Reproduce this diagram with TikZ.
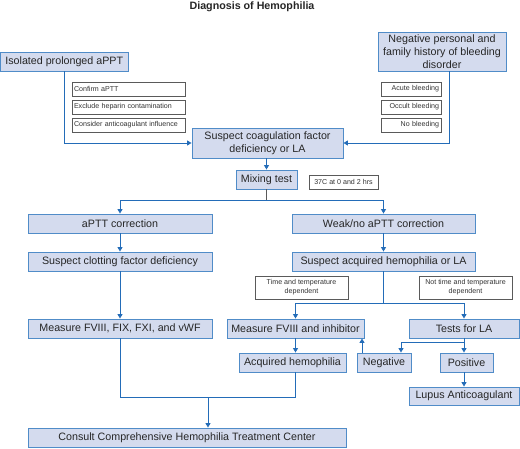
\documentclass[tikz,border=0pt]{standalone}
\usepackage{fontspec}
\setmainfont{Liberation Sans}
\usetikzlibrary{arrows.meta}
\definecolor{boxfill}{RGB}{212,219,238}
\definecolor{boxdraw}{RGB}{80,140,200}
\definecolor{linec}{RGB}{35,108,184}
\definecolor{smalldraw}{RGB}{90,90,90}
\tikzset{
  bigbox/.style={draw=boxdraw, fill=boxfill, line width=0.9pt, inner sep=0pt, align=center,
    font=\fontsize{10.7}{12.7}\selectfont, text=black!85},
  smallbox/.style={draw=smalldraw, fill=white, line width=0.8pt, inner xsep=2pt, inner ysep=0pt,
    font=\fontsize{7.1}{9}\selectfont, text=black!80},
  conn/.style={draw=linec, line width=0.9pt},
  arr/.style={conn, -{Triangle[width=5pt,length=4.5pt]}},
}
\begin{document}
\begin{tikzpicture}[x=1pt,y=-1pt]
\path[use as bounding box] (0,0) rectangle (520,448);
% title
\node[font=\fontsize{10.7}{12}\selectfont\bfseries, text=black!85] (title) at (252,7) {Diagnosis of Hemophilia};
% top boxes
\node[bigbox, minimum width=127.5pt, minimum height=19pt] (iso) at (64.25,61.5) {Isolated prolonged aPPT};
\node[bigbox, minimum width=128pt, minimum height=39pt] (neg) at (442,51.5) {Negative personal and\\family history of bleeding\\disorder};
% side notes
\node[smallbox, text width=109pt, minimum height=14pt, align=left] (c1) at (128.5,89) {Confirm aPTT};
\node[smallbox, text width=109pt, minimum height=14pt, align=left] (c2) at (128.5,107) {Exclude heparin contamination};
\node[smallbox, text width=109pt, minimum height=14pt, align=left] (c3) at (128.5,125) {\mbox{Consider anticoagulant influence}};
\node[smallbox, text width=56pt, minimum height=14pt, align=right] (b1) at (411,89) {Acute bleeding};
\node[smallbox, text width=56pt, minimum height=14pt, align=right] (b2) at (411,107) {\mbox{Occult bleeding}};
\node[smallbox, text width=56pt, minimum height=14pt, align=right] (b3) at (411,125) {No bleeding};
% suspect
\node[bigbox, minimum width=151pt, minimum height=30pt] (susp) at (267.5,143) {Suspect coagulation factor\\deficiency or LA};
\node[bigbox, minimum width=61pt, minimum height=19pt] (mix) at (266.5,179.5) {Mixing test};
\node[smallbox, inner xsep=0pt, minimum width=69pt, minimum height=14pt, align=center] (t37) at (343.5,182) {37C at 0 and 2 hrs};
% left column
\node[bigbox, minimum width=184pt, minimum height=19pt] (corr) at (120,223.5) {aPTT correction};
\node[bigbox, minimum width=184pt, minimum height=19pt] (sclot) at (120,261.5) {Suspect clotting factor deficiency};
\node[bigbox, minimum width=184pt, minimum height=19pt] (measall) at (120,328.5) {Measure FVIII, FIX, FXI, and vWF};
% right column
\node[bigbox, minimum width=183pt, minimum height=19pt] (weak) at (383.5,223.5) {Weak/no aPTT correction};
\node[bigbox, minimum width=183pt, minimum height=19pt] (sacq) at (383.5,261.5) {Suspect acquired hemophilia or LA};
\node[smallbox, inner xsep=0pt, minimum width=93pt, minimum height=23pt, align=center] (tdep) at (301.5,287.5) {Time and temperature\\dependent};
\node[smallbox, inner xsep=0pt, minimum width=93pt, minimum height=23pt, align=center] (ntdep) at (465.5,287.5) {Not time and temperature\\dependent};
\node[bigbox, minimum width=137pt, minimum height=19pt] (measinh) at (295.5,328.5) {Measure FVIII and inhibitor};
\node[bigbox, minimum width=110pt, minimum height=19pt] (tests) at (464,328.5) {Tests for LA};
\node[bigbox, minimum width=107pt, minimum height=19pt] (acq) at (292.5,362.5) {Acquired hemophilia};
\node[bigbox, minimum width=54pt, minimum height=19pt] (negt) at (384,362.5) {Negative};
\node[bigbox, minimum width=53pt, minimum height=19pt] (post) at (466.5,362.5) {Positive};
\node[bigbox, minimum width=110pt, minimum height=18pt] (lupus) at (464,396) {Lupus Anticoagulant};
\node[bigbox, minimum width=318pt, minimum height=19pt] (consult) at (187,437.5) {Consult Comprehensive Hemophilia Treatment Center};
% connectors
\draw[arr] (iso.south) |- (susp.west);
\draw[arr] ([xshift=7pt]neg.south) |- (susp.east);
\draw[arr] (susp.south -| mix.north) -- (mix.north);
\coordinate (split1) at (266.5,200);
\draw[draw=smalldraw, line width=0.9pt] (mix.south) -- (split1);
\draw[arr] (split1) -| (corr.north);
\draw[arr] (split1) -| (weak.north);
\draw[arr] (corr.south) -- (sclot.north);
\draw[arr] (weak.south) -- (sacq.north);
\draw[arr] (sclot.south) -- (measall.north);
\coordinate (split2) at (383.5,303);
\draw[conn] (sacq.south) -- (split2);
\draw[arr] (split2) -| (measinh.north);
\draw[arr] (split2) -| (tests.north);
\draw[arr] (measinh.south) -- (measinh.south |- acq.north);
\draw[arr] ([xshift=-22pt]negt.north) -- ([xshift=-22pt]negt.north |- measinh.south);
\coordinate (split3) at (464,342.5);
\draw[conn] (tests.south) -- (split3);
\draw[arr] (split3) -| ([xshift=17pt]negt.north);
\draw[arr] (split3) -- (split3 |- post.north);
\draw[arr] (post.south -| lupus.north) -- (lupus.north);
\coordinate (split4) at (208,397);
\draw[conn] (measall.south) |- (split4);
\draw[conn] (acq.south -| measinh.south) |- (split4);
\draw[arr] (split4) -- (split4 |- consult.north);
\end{tikzpicture}
\end{document}
